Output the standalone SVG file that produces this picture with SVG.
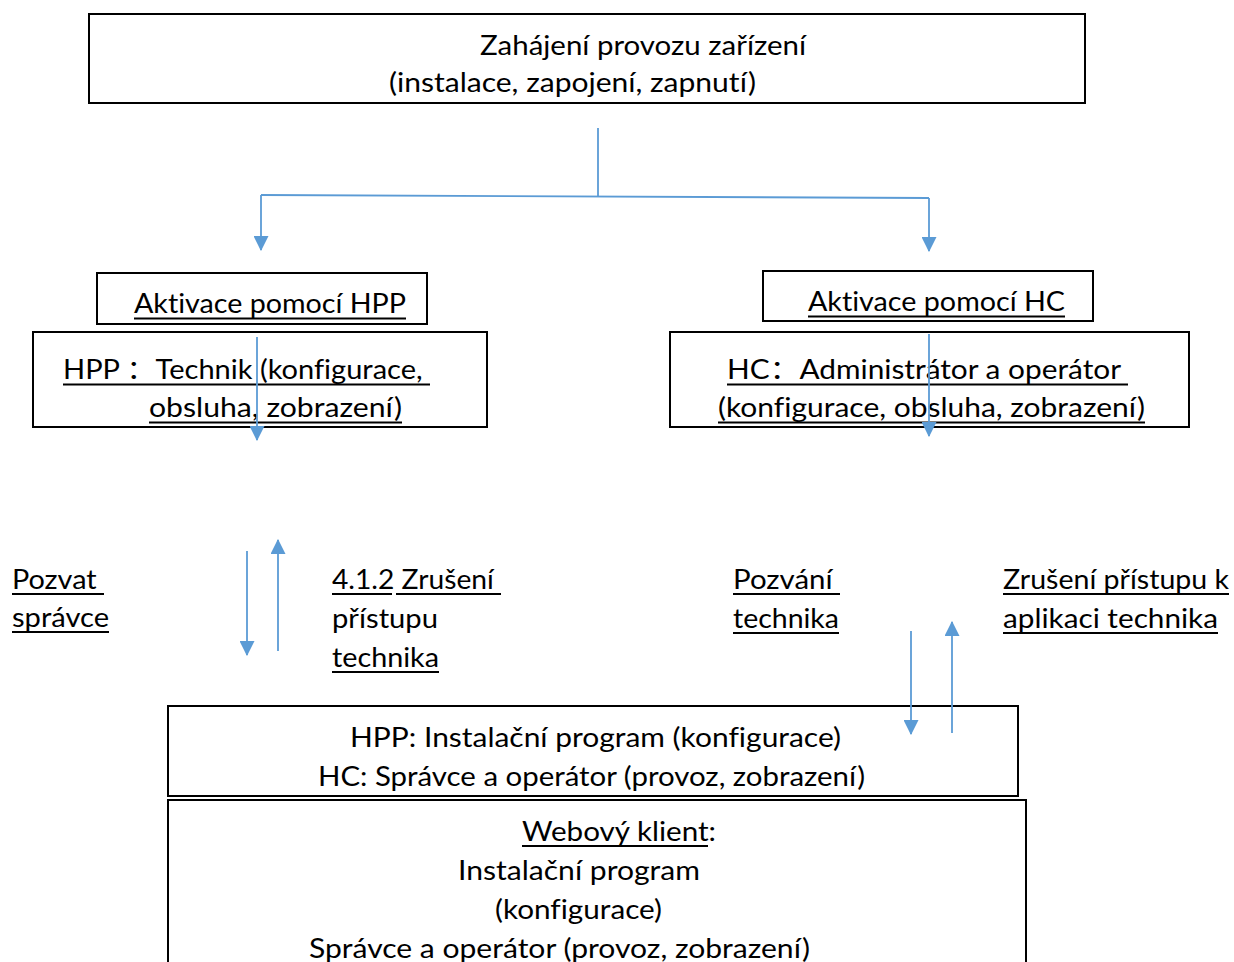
<svg xmlns="http://www.w3.org/2000/svg" width="1234" height="962" viewBox="0 0 1234 962">
<style>
.box{fill:#fff;stroke:#000;stroke-width:2}
text{font-family:Lato,"Noto Sans","Noto Sans CJK SC",sans-serif;font-size:26px;fill:#000;font-variant-ligatures:none}
.ul{fill:#000}
.c{fill:none;stroke:#5B9BD5;stroke-width:1.8}
</style>
<defs>
<marker id="ah" viewBox="0 0 14 14" refX="13" refY="7" markerWidth="15" markerHeight="15" markerUnits="userSpaceOnUse" orient="auto">
<path d="M0,0 L14,7 L0,14 z" fill="#5B9BD5"/>
</marker>
</defs>
<g id="n-start">
<rect class="box" x="89" y="14" width="996" height="89"/>
<text x="480" y="55" textLength="326" lengthAdjust="spacingAndGlyphs">Zahájení provozu zařízení</text>
<text x="389" y="92" textLength="367" lengthAdjust="spacingAndGlyphs">(instalace, zapojení, zapnutí)</text>
</g>
<g id="n-akt-hpp">
<rect class="box" x="97" y="273" width="330" height="51"/>
<text x="134" y="313" textLength="272" lengthAdjust="spacingAndGlyphs">Aktivace pomocí HPP</text>
<rect class="ul" x="134" y="317.5" width="272" height="2"/>
</g>
<g id="n-hpp">
<rect class="box" x="33" y="332" width="454" height="95"/>
<text x="63" y="379" textLength="367" lengthAdjust="spacingAndGlyphs" xml:space="preserve">HPP ：Technik (konfigurace, </text>
<text x="149" y="417" textLength="253" lengthAdjust="spacingAndGlyphs">obsluha, zobrazení)</text>
<rect class="ul" x="63" y="383.5" width="367" height="2"/>
<rect class="ul" x="149" y="421.5" width="253" height="2"/>
</g>
<g id="n-akt-hc">
<rect class="box" x="763" y="271" width="330" height="50"/>
<text x="808" y="311" textLength="257" lengthAdjust="spacingAndGlyphs">Aktivace pomocí HC</text>
<rect class="ul" x="808" y="315.5" width="257" height="2"/>
</g>
<g id="n-hc">
<rect class="box" x="670" y="332" width="519" height="95"/>
<text x="727" y="379" textLength="401" lengthAdjust="spacingAndGlyphs" xml:space="preserve">HC：Administrátor a operátor </text>
<text x="718" y="417" textLength="427" lengthAdjust="spacingAndGlyphs">(konfigurace, obsluha, zobrazení)</text>
<rect class="ul" x="727" y="383.5" width="401" height="2"/>
<rect class="ul" x="718" y="421.5" width="427" height="2"/>
</g>
<g id="l-pozvat">
<text x="12" y="589" textLength="92" lengthAdjust="spacingAndGlyphs" xml:space="preserve">Pozvat </text>
<text x="12" y="627" textLength="97" lengthAdjust="spacingAndGlyphs">správce</text>
<rect class="ul" x="12" y="593" width="92" height="2"/>
<rect class="ul" x="12" y="631" width="97" height="2"/>
</g>
<g id="l-zruseni">
<text x="332" y="589" textLength="169" lengthAdjust="spacingAndGlyphs" xml:space="preserve">4.1.2 Zrušení </text>
<text x="332" y="628" textLength="106" lengthAdjust="spacingAndGlyphs">přístupu</text>
<text x="332" y="667" textLength="107" lengthAdjust="spacingAndGlyphs">technika</text>
<rect class="ul" x="332" y="593" width="60" height="2"/>
<rect class="ul" x="396" y="593" width="105" height="2"/>
<rect class="ul" x="332" y="671" width="107" height="2"/>
</g>
<g id="l-pozvani">
<text x="733" y="589" textLength="107" lengthAdjust="spacingAndGlyphs" xml:space="preserve">Pozvání </text>
<text x="733" y="628" textLength="106" lengthAdjust="spacingAndGlyphs">technika</text>
<rect class="ul" x="733" y="593" width="107" height="2"/>
<rect class="ul" x="733" y="632" width="106" height="2"/>
</g>
<g id="l-zruseni-k">
<text x="1003" y="589" textLength="226" lengthAdjust="spacingAndGlyphs">Zrušení přístupu k</text>
<text x="1003" y="628" textLength="215" lengthAdjust="spacingAndGlyphs">aplikaci technika</text>
<rect class="ul" x="1003" y="593" width="226" height="2"/>
<rect class="ul" x="1003" y="632" width="215" height="2"/>
</g>
<g id="n-prog">
<rect class="box" x="168" y="706" width="850" height="90"/>
<text x="350" y="747" textLength="491" lengthAdjust="spacingAndGlyphs">HPP: Instalační program (konfigurace)</text>
<text x="318" y="786" textLength="547" lengthAdjust="spacingAndGlyphs">HC: Správce a operátor (provoz, zobrazení)</text>
</g>
<g id="n-web">
<rect class="box" x="168" y="800" width="858" height="170"/>
<text x="522" y="841" textLength="194" lengthAdjust="spacingAndGlyphs">Webový klient:</text>
<rect class="ul" x="522" y="845" width="186" height="2"/>
<text x="458" y="880" textLength="242" lengthAdjust="spacingAndGlyphs">Instalační program</text>
<text x="495" y="919" textLength="167" lengthAdjust="spacingAndGlyphs">(konfigurace)</text>
<text x="309" y="958" textLength="501" lengthAdjust="spacingAndGlyphs">Správce a operátor (provoz, zobrazení)</text>
</g>
<g id="connectors">
<path class="c" d="M598,128 V196"/>
<path class="c" d="M261,195 L929,198"/>
<path class="c" d="M261,195 V250" marker-end="url(#ah)"/>
<path class="c" d="M929,198 V251" marker-end="url(#ah)"/>
<path class="c" d="M257,337 V440" marker-end="url(#ah)"/>
<path class="c" d="M929,334 V436" marker-end="url(#ah)"/>
<path class="c" d="M247,551 V655" marker-end="url(#ah)"/>
<path class="c" d="M278,651 V540" marker-end="url(#ah)"/>
<path class="c" d="M911,631 V734" marker-end="url(#ah)"/>
<path class="c" d="M952,733 V622" marker-end="url(#ah)"/>
</g>
</svg>
